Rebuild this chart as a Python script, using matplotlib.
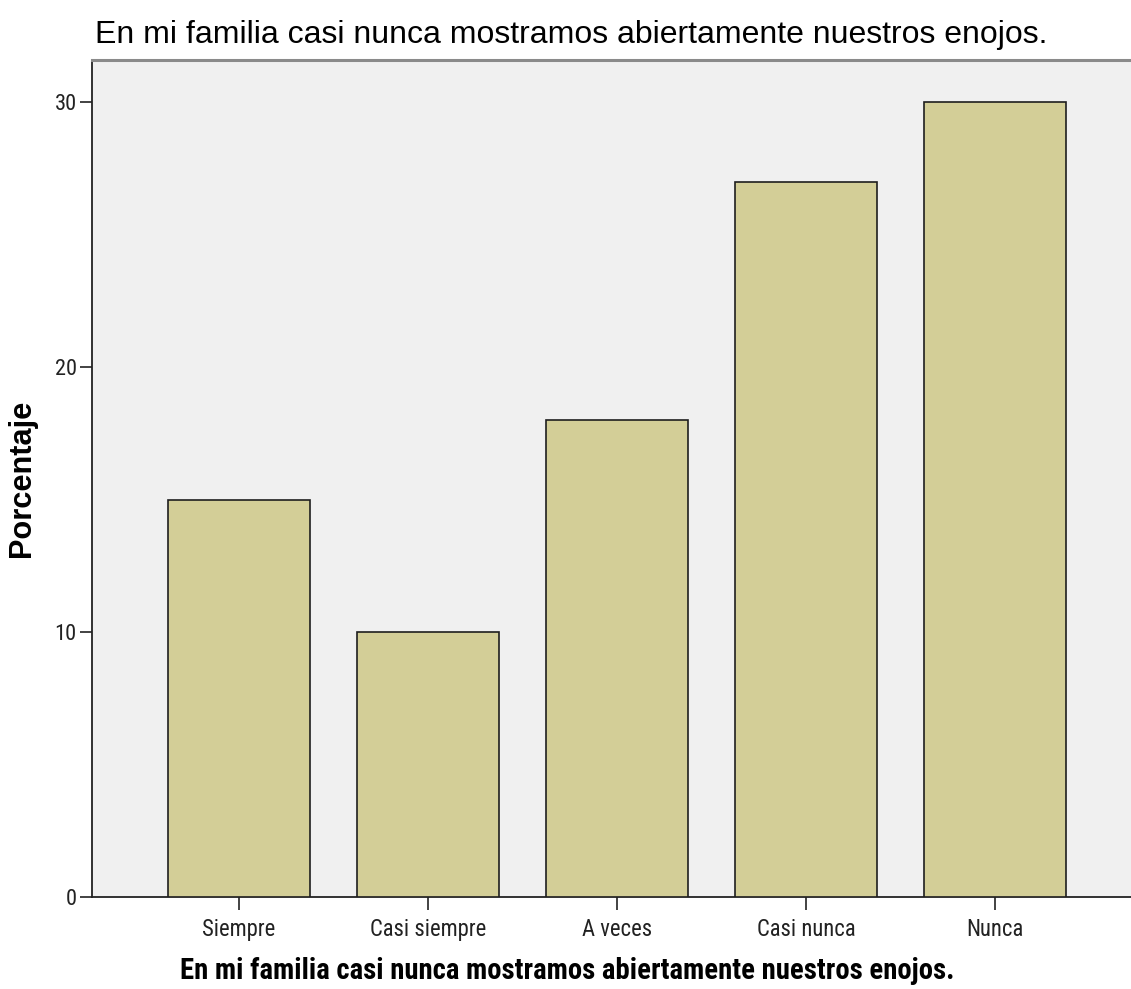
import matplotlib
matplotlib.use("Agg")
import matplotlib.pyplot as plt
from matplotlib import font_manager as fm

categories = ["Siempre", "Casi siempre", "A veces", "Casi nunca", "Nunca"]
values = [15, 10, 18, 27, 30]
yticks = [0, 10, 20, 30]
title = "En mi familia casi nunca mostramos abiertamente nuestros enojos."
ylabel = "Porcentaje"

avail = {f.name for f in fm.fontManager.ttflist}
COND = next((n for n in ["Roboto Condensed", "PT Sans Narrow", "Archivo Narrow", "Liberation Sans"] if n in avail), "DejaVu Sans")
SANS = "Liberation Sans" if "Liberation Sans" in avail else "DejaVu Sans"

W, H = 1131, 989
fig = plt.figure(figsize=(W / 100, H / 100), dpi=100)
ax = fig.add_axes([92 / W, 1 - 897 / H, (W - 92) / W, (897 - 60) / H])
ax.set_facecolor("#F0F0F0")

x = list(range(len(categories)))
ax.bar(x, values, width=0.75, color="#D3CE97", edgecolor="#1e1e1e", linewidth=1.2, zorder=3)

ax.set_xlim(-0.778, 4.72)
ax.set_ylim(0, 31.6)
ax.set_yticks(yticks)
ax.set_yticklabels([str(v) for v in yticks], fontsize=13, family=COND, color="#222222")
ax.set_xticks(x)
ax.set_xticklabels(categories, fontsize=13, family=COND, color="#222222")
ax.tick_params(axis="y", direction="out", length=9, width=1.2, pad=2, color="#222222")
ax.tick_params(axis="x", direction="out", length=9, width=1.2, pad=6, color="#222222")

ax.spines["right"].set_visible(False)
ax.spines["top"].set_color("#8a8a8a")
ax.spines["top"].set_linewidth(2.2)
for s in ["left", "bottom"]:
    ax.spines[s].set_color("#222222")
    ax.spines[s].set_linewidth(1.3)

yl = fig.text(22 / W, 1 - 478 / H, ylabel, rotation=90, fontsize=20, fontweight="bold",
              family=SANS, ha="center", va="center")
xl = fig.text(567 / W, 1 - 971 / H, title, fontsize=20, fontweight="bold",
              family=COND, ha="center", va="center")
tt = fig.text(95 / W, 1 - 35 / H, title, fontsize=20, fontweight="normal",
              family=SANS, ha="left", va="center")

def fit(txt, target, horizontal=True):
    for _ in range(3):
        fig.canvas.draw()
        bb = txt.get_window_extent()
        cur = bb.width if horizontal else bb.height
        txt.set_fontsize(txt.get_fontsize() * target / cur)

fit(tt, 950)
fit(xl, 775)
fit(yl, 157, horizontal=False)

fig.canvas.draw()
lab0 = ax.get_xticklabels()[0]
fs = lab0.get_fontsize() * 73 / lab0.get_window_extent().width
for lab in ax.get_xticklabels():
    lab.set_fontsize(fs)
fig.canvas.draw()
lab30 = ax.get_yticklabels()[-1]
fsy = lab30.get_fontsize() * 22 / lab30.get_window_extent().width
for lab in ax.get_yticklabels():
    lab.set_fontsize(fsy)

fig.savefig("out.png", dpi=100, facecolor="white")
